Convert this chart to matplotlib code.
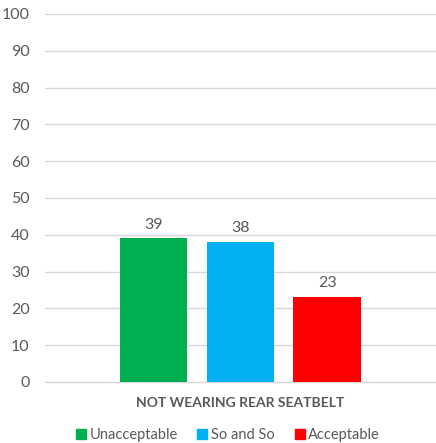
import matplotlib
matplotlib.use("Agg")
import matplotlib.pyplot as plt
from matplotlib.lines import Line2D

categories = ["Unacceptable", "So and So", "Acceptable"]
values = [39, 38, 23]
colors = ["#00B050", "#00B0F0", "#FF0000"]
group_label = "NOT WEARING REAR SEATBELT"
yticks = list(range(0, 101, 10))

plt.rcParams['font.family'] = ['Lato', 'DejaVu Sans']
txt = "#595959"

fig = plt.figure(figsize=(4.36, 4.43), dpi=100)
ax = fig.add_axes([0.103, 0.1377, 0.897, 0.8307])
xs = [-1, 0, 1]
bars = ax.bar(xs, values, width=0.78, color=colors, zorder=3)
for x, v in zip(xs, values):
    ax.annotate(str(v), (x, v), xytext=(0, 5), textcoords="offset points",
                ha="center", va="bottom", fontsize=11.5, color=txt)
ax.set_xlim(-2.25, 2.25)
ax.set_ylim(0, 100)
ax.set_yticks(yticks)
ax.set_xticks([0])
ax.set_xticklabels([group_label], fontweight="bold", fontsize=10, color=txt)
ax.tick_params(axis="x", length=0, pad=11)
ax.tick_params(axis="y", length=0, pad=11, labelsize=11.5, labelcolor=txt)
ax.grid(axis="y", color="#D9D9D9", linewidth=1, zorder=0)
for s in ["top", "right", "left"]:
    ax.spines[s].set_visible(False)
ax.spines["bottom"].set_color("#D9D9D9")
ax.spines["bottom"].set_linewidth(1)

handles = [Line2D([0], [0], marker="s", linestyle="none", markersize=7.5,
                  markerfacecolor=c, markeredgecolor=c) for c in colors]
fig.legend(handles, categories, loc="center", bbox_to_anchor=(0.52, 0.018),
           ncol=3, frameon=False, fontsize=10.5, labelcolor=txt,
           handletextpad=0.1, columnspacing=1.2, handlelength=1.0)
fig.savefig("out.png", dpi=100)
